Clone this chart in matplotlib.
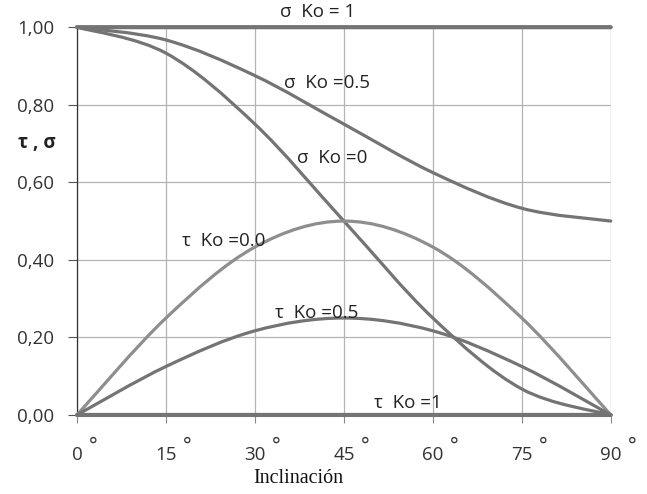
import matplotlib
matplotlib.use("Agg")
import matplotlib.pyplot as plt
from matplotlib.path import Path
from matplotlib.patches import PathPatch

# -------- Data (points every 15 deg) --------
angles = [0, 15, 30, 45, 60, 75, 90]
sigma_ko1 = [1.00, 1.00, 1.00, 1.00, 1.00, 1.00, 1.00]
sigma_ko05 = [1.00, 0.967, 0.875, 0.75, 0.625, 0.533, 0.50]
sigma_ko0 = [1.00, 0.933, 0.75, 0.50, 0.25, 0.067, 0.00]
tau_ko0 = [0.00, 0.25, 0.433, 0.50, 0.433, 0.25, 0.00]
tau_ko05 = [0.00, 0.125, 0.217, 0.25, 0.217, 0.125, 0.00]
tau_ko1 = [0.00, 0.00, 0.00, 0.00, 0.00, 0.00, 0.00]

y_ticks = [0.0, 0.2, 0.4, 0.6, 0.8, 1.0]
y_tick_labels = ["0,00", "0,20", "0,40", "0,60", "0,80", "1,00"]
x_tick_labels = [str(a) for a in angles]

labels = ["σ  Ko = 1", "σ  Ko =0.5", "σ  Ko =0", "τ  Ko =0.0", "τ  Ko =0.5", "τ  Ko =1"]
label_pos = [(40.6, 1.039), (42.1, 0.856), (43.0, 0.662), (24.8, 0.448), (40.4, 0.262), (55.8, 0.031)]

DARK = "#747474"
LIGHT = "#8e8e8e"
SANS = ["Open Sans", "DejaVu Sans"]
FS = 13.5


def smooth_path(xs, ys):
    # Excel-style smoothed line: cubic bezier, control points from neighbours
    pts = list(zip(xs, ys))
    n = len(pts)
    verts = [pts[0]]
    codes = [Path.MOVETO]
    for i in range(n - 1):
        p0 = pts[i - 1] if i > 0 else pts[i]
        p1 = pts[i]
        p2 = pts[i + 1]
        p3 = pts[i + 2] if i + 2 < n else pts[i + 1]
        c1 = (p1[0] + (p2[0] - p0[0]) / 6, p1[1] + (p2[1] - p0[1]) / 6)
        c2 = (p2[0] - (p3[0] - p1[0]) / 6, p2[1] - (p3[1] - p1[1]) / 6)
        verts += [c1, c2, p2]
        codes += [Path.CURVE4] * 3
    return Path(verts, codes)


fig = plt.figure(figsize=(6.47, 4.94), dpi=100)
ax = fig.add_axes([0.119, 0.160, 0.825, 0.785])

series = [
    (sigma_ko1, DARK, 3.0),
    (sigma_ko05, DARK, 2.3),
    (sigma_ko0, DARK, 2.3),
    (tau_ko0, LIGHT, 2.3),
    (tau_ko05, DARK, 2.3),
    (tau_ko1, DARK, 3.0),
]
for vals, col, lw in series:
    ax.add_patch(PathPatch(smooth_path(angles, vals), fill=False, edgecolor=col,
                           lw=lw, capstyle="round", zorder=3, clip_on=False))

ax.set_xlim(0, 90)
ax.set_ylim(0, 1.0)
ax.set_xticks(angles)
ax.set_xticklabels(x_tick_labels, family=SANS, fontsize=FS, color="#333333")
ax.set_yticks(y_ticks)
ax.set_yticklabels(y_tick_labels, family=SANS, fontsize=FS, color="#333333")
ax.tick_params(axis="x", length=6, width=0.8, color="#888888", pad=16.5)
ax.tick_params(axis="y", length=6.5, width=0.8, color="#555555", pad=10)

# degree signs sit raised, to the right of each x tick number
for a, lab in zip(angles, x_tick_labels):
    dx = 11.5 if len(lab) == 1 else 15.5
    ax.annotate("°", xy=(a, 0), xycoords=("data", "axes fraction"),
                xytext=(dx, -23), textcoords="offset points",
                family=SANS, fontsize=FS + 1, color="#333333",
                ha="center", va="center", annotation_clip=False)

ax.grid(True, color="#b4b4b4", lw=0.9)
ax.set_axisbelow(True)
for side in ["top", "right"]:
    ax.spines[side].set_visible(False)
ax.spines["left"].set_color("#333333")
ax.spines["left"].set_linewidth(0.9)
ax.spines["bottom"].set_color("#888888")

for txt, (x, y) in zip(labels, label_pos):
    ax.text(x, y, txt, family=SANS, fontsize=FS, color="#222222",
            ha="center", va="center", zorder=4, clip_on=False)

fig.text(18 / 647, 1 - 143 / 494, "τ , σ", family=SANS, fontsize=FS,
         fontweight="bold", color="#222222", ha="left", va="center")
fig.text(298 / 647, 1 - 478 / 494, "Inclinación", family=["Liberation Serif", "DejaVu Serif"],
         fontsize=14.5, color="#111111", ha="center", va="center")

fig.savefig("out.png", dpi=100)
